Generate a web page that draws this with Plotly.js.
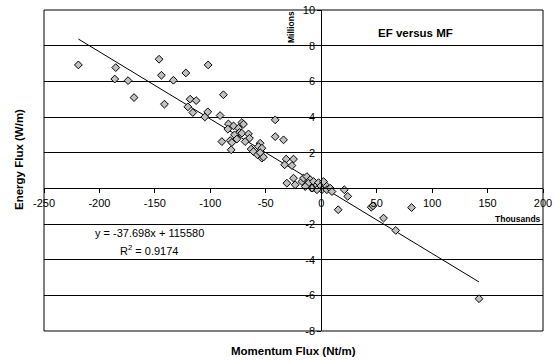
<!DOCTYPE html>
<html>
<head>
<meta charset="utf-8">
<script src="https://cdn.plot.ly/plotly-3.0.1.min.js"></script>
<style>html,body{margin:0;padding:0;background:#fff;}#chart{width:560px;height:364px;}</style>
</head>
<body>
<div id="chart"></div>
<script>
// Momentum Flux (Thousands of Nt/m)
var momentumFlux = [
  -219.0, -185.3, -186.2, -174.2, -168.8, -146.2, -144.1, -133.3, -122.1, -141.4,
  -102.0, -118.2, -112.8, -120.3, -115.8, -102.3, -105.0, -91.2, -88.2, -41.5,
  -41.5, -34.0,
  -83.7, -79.1, -71.6, -70.1, -84.2, -74.6, -73.7, -78.2, -71.6, -65.6,
  -64.7, -89.6, -82.1, -80.6, -76.1, -81.2, -68.6,
  -55.1, -56.6, -63.2, -61.1, -53.5, -57.5, -53.5, -52.1, -55.1,
  -31.6, -25.0, -33.0, -26.4,
  -31.0, -25.0, -23.5, -17.4, -16.0, -12.9, -9.9, -11.5, -6.9, -5.4,
  -2.4, -0.9, 0.6, 3.6, 5.1, 8.1, 9.7, -3.9, -8.4, 2.1, -14.4,
  20.8, 23.9, 15.3, 45.1, 46.7, 81.5, 56.2, 67.2, 142.3
];
// Energy Flux (Millions of W/m)
var energyFlux = [
  6.92, 6.77, 6.13, 6.04, 5.09, 7.24, 6.34, 6.06, 6.47, 4.72,
  6.92, 5.00, 4.92, 4.57, 4.25, 4.29, 4.00, 4.08, 5.25, 3.84,
  2.90, 2.72,
  3.61, 3.50, 3.69, 3.60, 3.32, 3.37, 3.13, 3.00, 3.09, 3.05,
  2.81, 2.62, 2.68, 2.57, 2.76, 2.16, 2.62,
  2.53, 2.34, 2.20, 2.06, 2.25, 1.88, 1.69, 1.75, 2.00,
  1.64, 1.64, 1.32, 1.28,
  0.29, 0.57, 0.20, 0.38, 0.57, 0.66, 0.48, 0.29, 0.38, 0.10,
  0.32, 0.10, -0.08, 0.20, -0.08, 0.01, -0.18, -0.08, 0.01, 0.38, 0.10,
  -0.08, -0.45, -1.20, -1.06, -0.98, -1.08, -1.67, -2.36, -6.19
];
// Trendline from the displayed equation (W/m vs Nt/m)
var trendSlope = -37.698;
var trendIntercept = 115580;
var xTickVals = [-250, -200, -150, -100, -50, 0, 50, 100, 150, 200];
var yTickVals = [-8, -6, -4, -2, 0, 2, 4, 6, 8, 10];

var xMin = Math.min.apply(null, momentumFlux);
var xMax = Math.max.apply(null, momentumFlux);
var trendX = [xMin, xMax];
var trendY = trendX.map(function (x) { return (trendSlope * x * 1000 + trendIntercept) / 1e6; });

var font = 'Liberation Sans, Arial, sans-serif';

var data = [
  {
    x: trendX, y: trendY, type: 'scatter', mode: 'lines',
    line: {color: '#000', width: 1}, hoverinfo: 'none', showlegend: false
  },
  {
    x: momentumFlux, y: energyFlux, type: 'scatter', mode: 'markers',
    marker: {symbol: 'diamond', size: 6, color: '#c0c0c0', line: {color: '#000', width: 1}},
    hoverinfo: 'none', showlegend: false
  }
];

function ann(text, px, py, size, angle) {
  return {
    text: text, xref: 'paper', yref: 'paper',
    x: (px - 44) / 499, y: (331 - py) / 321,
    xanchor: 'center', yanchor: 'middle', showarrow: false,
    textangle: angle || 0,
    font: {family: font, size: size, color: '#000'}
  };
}

var layout = {
  width: 560, height: 364,
  margin: {l: 44, r: 17, t: 10, b: 33, pad: 0},
  paper_bgcolor: '#fff', plot_bgcolor: '#fff',
  font: {family: font, size: 11, color: '#000'},
  showlegend: false,
  xaxis: {
    range: [-250, 200], tickvals: xTickVals, ticktext: xTickVals.map(String),
    anchor: 'free', position: 8 / 18,
    showline: true, linecolor: '#000', linewidth: 1,
    ticks: 'outside', ticklen: 4, tickcolor: '#000',
    showgrid: false, zeroline: false,
    tickfont: {family: font, size: 11, color: '#000'}
  },
  yaxis: {
    range: [-8, 10], tickvals: yTickVals, ticktext: yTickVals.map(String),
    anchor: 'free', position: 250 / 450,
    showline: true, linecolor: '#000', linewidth: 1,
    ticks: 'outside', ticklen: 4, tickcolor: '#000',
    showgrid: true, gridcolor: '#000', gridwidth: 1, zeroline: false,
    tickfont: {family: font, size: 11, color: '#000'}
  },
  shapes: [
    {type: 'rect', xref: 'paper', yref: 'paper', x0: 0, x1: 1, y0: 0, y1: 1,
     line: {color: '#000', width: 1}, layer: 'above'}
  ],
  annotations: [
    ann('<b>EF versus MF</b>', 415, 33, 11.5),
    ann('<b>Millions</b>', 291, 27, 8.5, -90),
    ann('<b>Thousands</b>', 518, 219, 8.5),
    ann('y = -37.698x + 115580', 149, 233, 11),
    ann('R<sup>2</sup> = 0.9174', 149, 250, 11),
    ann('<b>Energy Flux (W/m)</b>', 19, 160, 11.5, -90),
    ann('<b>Momentum Flux (Nt/m)</b>', 293, 351, 11.5)
  ]
};

Plotly.newPlot('chart', data, layout, {staticPlot: true, displayModeBar: false});
</script>
</body>
</html>
